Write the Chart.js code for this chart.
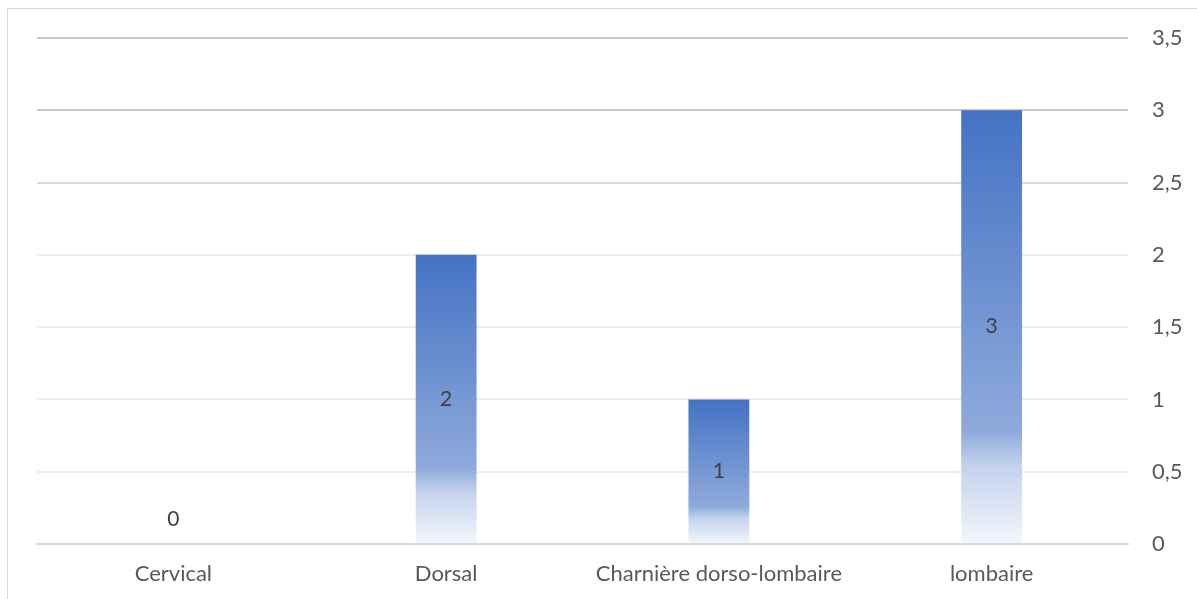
<!DOCTYPE html>
<html>
<head>
<meta charset="utf-8">
<script src="https://cdn.jsdelivr.net/npm/chart.js@4/dist/chart.umd.min.js"></script>
<style>
  html, body { margin: 0; padding: 0; background: #fff; overflow: hidden; }
  #cadre { position: absolute; left: 7px; top: 8px; width: 1200px; height: 600px; border: 1px solid #d9d9d9; box-sizing: border-box; }
  #wrap { position: absolute; left: 0; top: 0; width: 1197px; height: 599px; }
</style>
</head>
<body>
<div id="cadre"></div>
<div id="wrap"><canvas id="localisation"></canvas></div>
<script>
// Localisation des lésions
const regions = ['Cervical', 'Dorsal', 'Charnière dorso-lombaire', 'lombaire'];
const effectifs = [0, 2, 1, 3];
const ticksY = [0, 0.5, 1, 1.5, 2, 2.5, 3, 3.5];

const police = "Lato, 'Open Sans', sans-serif";

// dégradé bleu -> blanc sur chaque barre
function degradeBarre(ctx) {
    const chart = ctx.chart;
    const area = chart.chartArea;
    if (!area) return '#4472C4';
    const y = chart.scales.y;
    const v = ctx.raw || 0;
    const haut = y.getPixelForValue(v);
    const bas = y.getPixelForValue(0);
    if (bas - haut < 1) return '#4472C4';
    const g = chart.ctx.createLinearGradient(0, haut, 0, bas);
    g.addColorStop(0, '#4472C4');
    g.addColorStop(0.74, '#8eaadb');
    g.addColorStop(0.82, '#c3d2ec');
    g.addColorStop(1, '#f4f7fc');
    return g;
}

// étiquettes au milieu des barres
const etiquettes = {
    id: 'etiquettes',
    afterDatasetsDraw(chart) {
        const c = chart.ctx;
        const meta = chart.getDatasetMeta(0);
        c.save();
        c.font = '21px ' + police;
        c.fillStyle = '#404040';
        c.textAlign = 'center';
        c.textBaseline = 'middle';
        meta.data.forEach((bar, i) => {
            const v = effectifs[i];
            let yy = (bar.y + bar.base) / 2;
            if (v === 0) yy = bar.base - 25;
            c.fillText(String(v), bar.x, yy);
        });
        c.restore();
    }
};

const ctx = document.getElementById('localisation').getContext('2d');
new Chart(ctx, {
    type: 'bar',
    data: {
        labels: regions,
        datasets: [{
            data: effectifs,
            backgroundColor: degradeBarre,
            barPercentage: 0.223,
            categoryPercentage: 1
        }]
    },
    options: {
        responsive: true,
        maintainAspectRatio: false,
        animation: false,
        layout: { padding: { left: 37, top: 38, right: 0, bottom: 0 } },
        plugins: {
            legend: { display: false },
            tooltip: { enabled: false }
        },
        scales: {
            x: {
                grid: { display: false, drawTicks: false },
                border: { display: true, color: '#d9d9d9', width: 2 },
                ticks: {
                    color: '#595959',
                    font: { family: police, size: 22 },
                    padding: 17,
                    maxRotation: 0
                },
                afterFit: s => { s.height = 55; }
            },
            y: {
                position: 'right',
                min: 0,
                max: 3.5,
                afterBuildTicks: s => { s.ticks = ticksY.map(v => ({ value: v })); },
                grid: {
                    drawTicks: false,
                    color: c => {
                        const v = c.tick ? c.tick.value : 0;
                        if (v === 0) return 'rgba(0,0,0,0)';
                        if (v >= 3) return '#c8c8c8';
                        if (v >= 2.5) return '#dadada';
                        return '#ececec';
                    },
                    lineWidth: 2
                },
                border: { display: false },
                ticks: {
                    color: '#595959',
                    font: { family: police, size: 22 },
                    padding: 24,
                    crossAlign: 'near',
                    callback: v => String(v).replace('.', ',')
                },
                afterFit: s => { s.width = 69; }
            }
        }
    },
    plugins: [etiquettes]
});
</script>
</body>
</html>
